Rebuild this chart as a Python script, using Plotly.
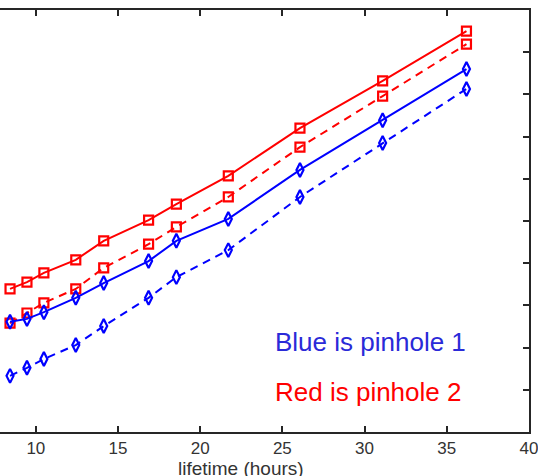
import plotly.graph_objects as go

# lifetime in hours for each measurement
lifetime = [8.43, 9.46, 10.49, 12.43, 14.13, 16.86, 18.55, 21.71, 26.07, 31.10, 36.20]

# pinhole 2 (red)
red_solid = [3.39, 3.55, 3.77, 4.08, 4.53, 5.02, 5.40, 6.07, 7.20, 8.32, 9.50]
red_dashed = [2.58, 2.82, 3.06, 3.39, 3.89, 4.45, 4.86, 5.57, 6.75, 7.96, 9.19]

# pinhole 1 (blue)
blue_solid = [2.61, 2.68, 2.84, 3.18, 3.53, 4.05, 4.53, 5.05, 6.21, 7.39, 8.60]
blue_dashed = [1.33, 1.52, 1.73, 2.06, 2.51, 3.18, 3.67, 4.31, 5.57, 6.85, 8.13]

x_ticks = [10, 15, 20, 25, 30, 35, 40]
y_ticks = list(range(0, 11))

RED = "#ff0000"
BLUE = "#0000ff"
AXIS = "#262626"
FONT = "Liberation Sans, Arial, sans-serif"

fig = go.Figure()

def add_series(y, color, symbol, dash, size):
    fig.add_trace(go.Scatter(
        x=lifetime, y=y, mode="lines+markers",
        line=dict(color=color, width=2, dash=dash),
        marker=dict(symbol=symbol, size=size, color=color,
                    line=dict(color=color, width=2.2)),
        showlegend=False, cliponaxis=False,
    ))

add_series(red_solid, RED, "square-open", "solid", 9)
add_series(red_dashed, RED, "square-open", "8px,6px", 9)
add_series(blue_solid, BLUE, "diamond-tall-open", "solid", 10)
add_series(blue_dashed, BLUE, "diamond-tall-open", "8px,6px", 10)

fig.add_annotation(x=24.44, y=2.13, xref="x", yref="y", text="Blue is pinhole 1",
                   showarrow=False, xanchor="left", yanchor="middle",
                   font=dict(family=FONT, size=26, color="#2a2ad8"))
fig.add_annotation(x=24.44, y=0.95, xref="x", yref="y", text="Red is pinhole 2",
                   showarrow=False, xanchor="left", yanchor="middle",
                   font=dict(family=FONT, size=26, color=RED))

# axis label
fig.add_annotation(x=0.456, y=0, xref="paper", yref="paper", yshift=-36,
                   text="lifetime (hours)", showarrow=False,
                   xanchor="center", yanchor="middle",
                   font=dict(family=FONT, size=19, color="#333333"))

fig.update_xaxes(range=[7.82, 40.005], tickvals=x_ticks, ticks="inside", ticklen=6,
                 tickwidth=1.5, tickcolor=AXIS, showline=True, linecolor=AXIS,
                 linewidth=1.5, mirror="ticks", showgrid=False, zeroline=False,
                 ticklabeloverflow="allow",
                 tickfont=dict(family=FONT, size=17, color="#333333"))
fig.update_yaxes(range=[0, 10], tickvals=y_ticks, side="right", ticks="inside",
                 ticklen=6, tickwidth=1.5, tickcolor=AXIS, showline=True,
                 linecolor=AXIS, linewidth=1.5, showticklabels=False,
                 showgrid=False, zeroline=False)

fig.update_layout(width=538, height=476, margin=dict(l=0, r=7, t=10, b=44),
                  paper_bgcolor="white", plot_bgcolor="white")

fig.write_html("out.html")
